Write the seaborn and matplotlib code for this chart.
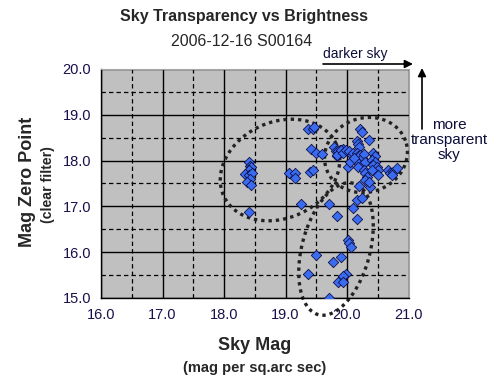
import numpy as np
import pandas as pd
import matplotlib
matplotlib.use("Agg")
import matplotlib.pyplot as plt
import seaborn as sns

# ---- data ----
sky_mag = [
    18.41, 18.42, 18.44, 18.40, 18.34, 18.41, 18.45, 18.42, 18.38, 18.44, 18.40,
    19.37, 19.44, 19.47, 19.41, 19.50, 19.59, 19.06, 19.15, 19.16, 19.40, 19.44, 19.26,
    19.70, 19.83, 20.17, 20.09, 20.17, 20.24, 20.19, 20.37, 20.02, 20.04, 20.07,
    19.49, 19.91, 19.77, 19.37, 19.99, 19.94, 19.86, 19.93, 19.71,
    20.21, 20.24, 20.35, 20.16, 20.18, 20.20, 19.79, 19.82, 19.83, 19.89, 19.94,
    19.86, 19.83, 19.91, 19.94, 19.99, 20.04, 20.08, 20.10, 20.16, 20.18, 20.21,
    20.24, 20.27, 20.13, 20.18, 20.24, 20.29, 20.02, 20.18, 20.27, 20.29, 20.32,
    20.29, 20.35, 20.43, 20.46, 20.40, 20.46, 20.43, 20.48, 20.51, 20.40, 20.51,
    20.67, 20.70, 20.75, 20.81, 20.73, 20.05, 20.12,
]
zero_point = [
    17.98, 17.88, 17.85, 17.79, 17.70, 17.69, 17.72, 17.59, 17.54, 17.47, 16.88,
    18.70, 18.69, 18.74, 18.25, 18.17, 18.14, 17.74, 17.74, 17.61, 17.76, 17.79, 17.05,
    17.05, 16.78, 16.72, 16.97, 17.13, 17.19, 17.45, 17.43, 16.27, 16.19, 16.12,
    15.94, 15.90, 15.78, 15.52, 15.52, 15.48, 15.36, 15.36, 15.01,
    18.69, 18.63, 18.45, 18.43, 18.36, 18.30, 18.29, 18.22, 18.10, 18.23, 18.25,
    18.20, 18.12, 18.23, 18.16, 18.23, 18.20, 18.12, 18.17, 18.16, 18.09, 18.12,
    18.05, 18.14, 18.01, 17.94, 17.90, 17.98, 17.87, 17.87, 17.80, 17.72, 17.65,
    17.58, 17.54, 18.16, 18.09, 18.01, 17.98, 17.90, 17.87, 17.80, 17.80, 17.69,
    17.80, 17.72, 17.76, 17.83, 17.69, 17.98, 18.05,
]
x_ticks = [16.0, 17.0, 18.0, 19.0, 20.0, 21.0]
y_ticks = [15.0, 16.0, 17.0, 18.0, 19.0, 20.0]
title = "Sky Transparency vs Brightness"
subtitle = "2006-12-16 S00164"

df = pd.DataFrame({"sky": sky_mag, "zp": zero_point})

sns.set_style("white")
plt.rcParams["font.family"] = ["Liberation Sans", "DejaVu Sans"]

W, H = 488, 391
fig = plt.figure(figsize=(W / 100, H / 100), dpi=100)
fig.patch.set_facecolor("white")
ax = fig.add_axes([101 / W, 1 - 298 / H, (408.5 - 101) / W, (298 - 69) / H])
ax.set_facecolor("#c0c0c0")

ax.set_xlim(16, 21)
ax.set_ylim(15, 20)
ax.set_xticks(x_ticks)
ax.set_yticks(y_ticks)
ax.set_xticks(np.arange(16.5, 21, 1.0), minor=True)
ax.set_yticks(np.arange(15.5, 20, 1.0), minor=True)
tick_col = "#1a0f4a"
ax.set_xticklabels([f"{v:.1f}" for v in x_ticks], fontsize=10.5, color=tick_col)
ax.set_yticklabels([f"{v:.1f}" for v in y_ticks], fontsize=10.5, color=tick_col)
ax.tick_params(which="major", direction="out", length=4, width=1, color="black", pad=3)
ax.tick_params(which="minor", length=0)
ax.grid(which="major", color="black", linewidth=1.0, linestyle="-")
ax.grid(which="minor", color="black", linewidth=0.9, linestyle=(0, (3.5, 2.5)))
ax.set_axisbelow(True)
for s in ["left", "bottom"]:
    ax.spines[s].set_color("black")
    ax.spines[s].set_linewidth(1.0)
for s in ["top", "right"]:
    ax.spines[s].set_color("#a8a8a8")
    ax.spines[s].set_linewidth(0.8)

sns.scatterplot(data=df, x="sky", y="zp", ax=ax, marker="D", s=28,
                color="#3a6cf0", edgecolor="#10104a", linewidth=0.6, zorder=3,
                legend=False)
ax.set_xlabel("")
ax.set_ylabel("")

# dotted ellipses (annotation shapes), defined in image pixels
def ellipse(cx, cy, a, b, ang):
    t = np.linspace(0, 2 * np.pi, 400)
    th = np.deg2rad(ang)
    dx = a * np.cos(t) * np.cos(th) - b * np.sin(t) * np.sin(th)
    dy = a * np.cos(t) * np.sin(th) + b * np.sin(t) * np.cos(th)
    px = cx + dx
    py = H - (cy - dy)
    pts = ax.transData.inverted().transform(np.column_stack([px, py]))
    ax.plot(pts[:, 0], pts[:, 1], color="#222222", linestyle=(0, (1, 1.2)),
            linewidth=2.4, clip_on=False, zorder=2)

fig.canvas.draw()
ellipse(280, 170, 62, 48, 25)
ellipse(366, 155, 42, 37, 20)
ellipse(336, 249, 68, 34, 75)

# titles and labels
fig.text(244 / W, 1 - 17 / H, title, ha="center", va="center",
         fontsize=11.5, fontweight="bold")
fig.text(242 / W, 1 - 42 / H, subtitle, ha="center", va="center", fontsize=11.5)
fig.text(27 / W, 1 - 182 / H, "Mag Zero Point", rotation=90, ha="center",
         va="center", fontsize=13, fontweight="bold")
fig.text(48 / W, 1 - 185 / H, "(clear filter)", rotation=90, ha="center",
         va="center", fontsize=10.2, fontweight="bold")
fig.text(255 / W, 1 - 346 / H, "Sky Mag", ha="center", va="center",
         fontsize=13, fontweight="bold")
fig.text(255 / W, 1 - 368 / H, "(mag per sq.arc sec)", ha="center",
         va="center", fontsize=10.5, fontweight="bold")

ann_col = "#0d0d3a"
fig.text(355 / W, 1 - 54 / H, "darker sky", ha="center", va="center",
         fontsize=10, color=ann_col)
fig.text(449 / W, 1 - 140 / H, "more\ntransparent\nsky", ha="center",
         va="center", fontsize=11, color=ann_col, linespacing=1.1)

ax.annotate("", xy=(413, H - 64), xytext=(323, H - 64), xycoords="figure pixels",
            textcoords="figure pixels",
            arrowprops=dict(arrowstyle="-|>", color="black", lw=1.2,
                            mutation_scale=12, shrinkA=0, shrinkB=0),
            annotation_clip=False)
ax.annotate("", xy=(422, H - 68), xytext=(422, H - 129), xycoords="figure pixels",
            textcoords="figure pixels",
            arrowprops=dict(arrowstyle="-|>", color="black", lw=1.2,
                            mutation_scale=12, shrinkA=0, shrinkB=0),
            annotation_clip=False)

fig.savefig("out.png", dpi=100, facecolor="white")
